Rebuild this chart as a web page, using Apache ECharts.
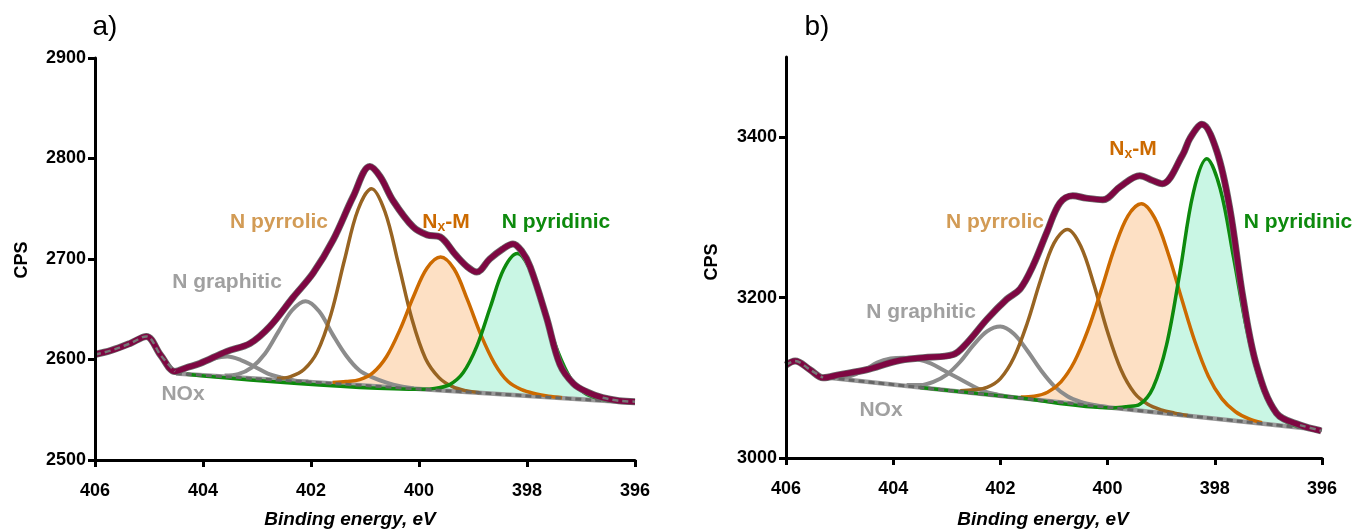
<!DOCTYPE html>
<html>
<head>
<meta charset="utf-8">
<script src="https://cdn.jsdelivr.net/npm/echarts@6/dist/echarts.min.js"></script>
<style>
  html, body { margin: 0; padding: 0; background: #fff; }
  #chart { width: 1358px; height: 530px; }
</style>
</head>
<body>
<div id="chart"></div>
<script>
// data: [binding energy (eV), CPS]
// panel a)
var aEnvelope = [[406.0,2605],[405.7,2609],[405.35,2616],[405.05,2623],[404.78,2604],[404.52,2588],[404.3,2592],[404.06,2596],[403.56,2608],[403.13,2616],[402.76,2633],[402.33,2662],[401.96,2686],[401.59,2719],[401.22,2762],[400.91,2792],[400.72,2782],[400.48,2758],[400.11,2732],[399.85,2724],[399.61,2722],[399.32,2704],[399.1,2692],[398.93,2687],[398.69,2700],[398.45,2710],[398.26,2715],[398.1,2708],[397.94,2692],[397.64,2642],[397.39,2595],[397.14,2576],[396.9,2568],[396.6,2562],[396.3,2559],[396.0,2558]];
var aBaseline = [[404.5,2586],[396.0,2557]];
var aNOx = [[404.55,2588.5],[404.3,2591],[404.05,2596],[403.8,2601],[403.55,2603],[403.3,2599.5],[403.05,2593],[402.8,2586],[402.55,2582],[402.3,2579],[402.05,2578]];
var aGraphitic = [[403.6,2584],[403.35,2585.5],[403.1,2592],[402.85,2606],[402.6,2628],[402.35,2649],[402.1,2658],[401.85,2648],[401.6,2625],[401.35,2604],[401.1,2589],[400.85,2582],[400.6,2577],[400.35,2573.5],[400.1,2571.5]];
var aPyrrolic = [[402.63,2581],[402.38,2583],[402.13,2590],[401.88,2608],[401.63,2645],[401.38,2699],[401.13,2749],[400.88,2770],[400.63,2747],[400.38,2695],[400.13,2640],[399.88,2601],[399.63,2582],[399.38,2573],[399.13,2569],[398.88,2567]];
var aNxM = [[401.6,2577],[401.35,2578],[401.1,2580],[400.85,2587],[400.6,2603],[400.35,2630],[400.1,2663],[399.85,2691],[399.6,2702],[399.35,2690],[399.1,2659],[398.85,2624],[398.6,2596],[398.35,2578],[398.1,2570],[397.85,2566],[397.6,2563.5],[397.35,2562]];
var aPyridinic = [[404.3,2585.3],[399.93,2570.3],[399.68,2571.5],[399.43,2575],[399.18,2587],[398.93,2613],[398.68,2652],[398.43,2690],[398.18,2705.5],[397.93,2688],[397.68,2648],[397.43,2608],[397.18,2580],[396.93,2566.5],[396.68,2561],[396.43,2558.5]];

// panel b)
var bEnvelope = [[406.0,3116],[405.83,3121],[405.55,3110],[405.31,3100],[405.0,3104],[404.5,3110],[403.93,3121],[403.44,3125],[402.88,3129],[402.63,3143],[402.25,3173],[401.88,3198],[401.63,3211],[401.39,3240],[401.13,3282],[400.89,3318],[400.65,3327],[400.4,3324],[400.09,3322],[399.77,3338],[399.4,3352],[399.16,3346],[398.98,3342],[398.6,3378],[398.46,3399],[398.24,3416],[397.96,3382],[397.72,3311],[397.47,3198],[397.22,3115],[396.85,3056],[396.41,3041],[396.02,3034]];
var bBaseline = [[405.2,3100],[396.0,3035]];
var bNOx = [[405.05,3099],[404.8,3102],[404.55,3109],[404.3,3119],[404.05,3124],[403.8,3125],[403.55,3123],[403.3,3118],[403.05,3109],[402.8,3100],[402.55,3091],[402.3,3083],[402.05,3079],[401.8,3076]];
var bGraphitic = [[403.75,3091],[403.5,3091],[403.25,3095],[403.0,3104],[402.75,3120],[402.5,3141],[402.25,3158],[402.0,3164],[401.75,3155],[401.5,3134],[401.25,3110],[401.0,3090],[400.75,3077],[400.5,3070],[400.25,3066],[400.0,3063.5]];
var bPyrrolic = [[402.75,3084],[402.5,3085],[402.25,3088],[402.0,3099],[401.75,3125],[401.5,3168],[401.25,3222],[401.0,3268],[400.75,3285],[400.5,3264],[400.25,3215],[400.0,3157],[399.75,3110],[399.5,3081],[399.25,3067],[399.0,3060],[398.75,3056],[398.5,3053]];
var bNxM = [[401.62,3076],[401.37,3077],[401.12,3082],[400.87,3095],[400.62,3120],[400.37,3159],[400.12,3209],[399.87,3262],[399.62,3302],[399.37,3317],[399.12,3299],[398.87,3255],[398.62,3199],[398.37,3145],[398.12,3102],[397.87,3074],[397.62,3058],[397.37,3049],[397.12,3044]];
var bPyridinic = [[403.5,3088],[401.7,3075.3],[399.9,3062.5],[399.65,3064],[399.4,3067],[399.15,3088],[398.9,3141],[398.65,3232],[398.4,3331],[398.15,3373],[397.9,3336],[397.65,3250],[397.4,3159],[397.15,3094],[396.9,3059],[396.65,3044.5],[396.4,3038.5],[396.15,3036]];

var xTicks = [406, 404, 402, 400, 398, 396];
var aYTicks = [2500, 2600, 2700, 2800, 2900];
var bYTicks = [3000, 3200, 3400];

var FONT = "'Liberation Sans', Arial, sans-serif";
var cMaroon = '#7e0742', cFitGray = '#6c6c6c', cGray = '#8c8c8c';
var cBrown = '#986422', cOrange = '#cc6a00', cGreen = '#0d8a0d';
var fillOrange = '#fde0c4', fillGreen = '#c9f6e4';

function line(gi, data, color, width, dash) {
	return {
		type: 'line', xAxisIndex: gi, yAxisIndex: gi, data: data,
		showSymbol: false, smooth: 0.35, silent: true,
		lineStyle: { color: color, width: width, type: dash || 'solid' }
	};
}
function area(gi, data, color) {
	var s = line(gi, data, color, 0);
	s.areaStyle = { color: color, opacity: 1, origin: 'start' };
	return s;
}

function panelSeries(gi, env, base, nox, graph, pyrrol, nxm, pyrid, leftEnd, rightEnd) {
	return [
		area(gi, nxm, fillOrange),
		area(gi, pyrid, fillGreen),
		area(gi, base, '#ffffff'),
		line(gi, base, '#9a9a9a', 4.5),
		line(gi, nox, cGray, 4),
		line(gi, graph, cGray, 4),
		line(gi, pyrrol, cBrown, 3.5),
		line(gi, nxm, cOrange, 3.5),
		line(gi, pyrid, cGreen, 3.5),
		line(gi, base, '#666666', 3, [6, 4]),
		line(gi, env, cFitGray, 7),
		line(gi, env, cMaroon, 5.5),
		line(gi, env.filter(function (p) { return p[0] >= leftEnd; }), '#777777', 2.5, [6, 4]),
		line(gi, env.filter(function (p) { return p[0] <= rightEnd; }), '#777777', 2.5, [6, 4])
	];
}

function plainNum(v) { return String(v); }

function xAxis(gi) {
	return {
		type: 'value', gridIndex: gi, min: 396, max: 406, interval: 2, inverse: true, z: 5,
		axisLine: { lineStyle: { color: '#000', width: 3 } },
		axisTick: { length: 7, lineStyle: { color: '#000', width: 3 }, customValues: xTicks },
		axisLabel: { fontSize: 18, fontWeight: 'bold', color: '#000', margin: 22, fontFamily: FONT, customValues: xTicks, formatter: plainNum },
		splitLine: { show: false }
	};
}
function yAxis(gi, min, max, interval, ticks) {
	return {
		type: 'value', gridIndex: gi, min: min, max: max, interval: interval, z: 5,
		axisLine: { show: true, lineStyle: { color: '#000', width: 3 } },
		axisTick: { show: true, length: 7, lineStyle: { color: '#000', width: 3 }, customValues: ticks },
		axisLabel: { fontSize: 18, fontWeight: 'bold', color: '#000', margin: 9, fontFamily: FONT, customValues: ticks, formatter: plainNum },
		splitLine: { show: false }
	};
}

function label(x, y, text, color, size, extra) {
	var st = { text: text, fill: color, font: 'bold ' + (size || 21) + 'px ' + FONT, align: 'center', verticalAlign: 'middle' };
	for (var k in extra) st[k] = extra[k];
	return { type: 'text', x: x, y: y, z: 100, silent: true, style: st };
}
function nxmLabel(x, y) {
	return label(x, y, '{n|N}{s|x}{n|-M}', cOrange, 21, {
		rich: {
			n: { fontSize: 21, fontWeight: 'bold', fontFamily: FONT, fill: cOrange, lineHeight: 24 },
			s: { fontSize: 14, fontWeight: 'bold', fontFamily: FONT, fill: cOrange, lineHeight: 14, verticalAlign: 'bottom' }
		}
	});
}
function plain(x, y, text, size, weight, style, rot) {
	return {
		type: 'text', x: x, y: y, z: 100, rotation: rot || 0, silent: true,
		style: { text: text, fill: '#000', font: (style || '') + ' ' + (weight || 'normal') + ' ' + size + 'px ' + FONT, align: 'center', verticalAlign: 'middle' }
	};
}

var chart = echarts.init(document.getElementById('chart'));
chart.setOption({
	animation: false,
	backgroundColor: '#ffffff',
	grid: [
		{ left: 95, right: 723, top: 58, bottom: 70 },
		{ left: 786, right: 36, top: 57, bottom: 72 }
	],
	xAxis: [xAxis(0), xAxis(1)],
	yAxis: [yAxis(0, 2500, 2900, 100, aYTicks), yAxis(1, 3000, 3500, 200, bYTicks)],
	series: panelSeries(0, aEnvelope, aBaseline, aNOx, aGraphitic, aPyrrolic, aNxM, aPyridinic, 404.5, 396.6)
		.concat(panelSeries(1, bEnvelope, bBaseline, bNOx, bGraphitic, bPyrrolic, bNxM, bPyridinic, 405.3, 396.5)),
	graphic: [
		plain(105, 27, 'a)', 28),
		plain(817, 27, 'b)', 28),
		plain(22, 260, 'CPS', 18, 'bold', '', Math.PI / 2),
		plain(712, 262, 'CPS', 18, 'bold', '', Math.PI / 2),
		plain(350, 520, 'Binding energy, eV', 19, 'bold', 'italic'),
		plain(1043, 520, 'Binding energy, eV', 19, 'bold', 'italic'),
		label(279, 222, 'N pyrrolic', '#d29b55'),
		nxmLabel(446, 222),
		label(556, 222, 'N pyridinic', cGreen),
		label(227, 282, 'N graphitic', '#a0a0a0'),
		label(183, 394, 'NOx', '#a0a0a0'),
		label(995, 222, 'N pyrrolic', '#d29b55'),
		nxmLabel(1133, 149),
		label(1298, 222, 'N pyridinic', cGreen),
		label(921, 312, 'N graphitic', '#a0a0a0'),
		label(881, 410, 'NOx', '#a0a0a0')
	]
});
</script>
</body>
</html>
